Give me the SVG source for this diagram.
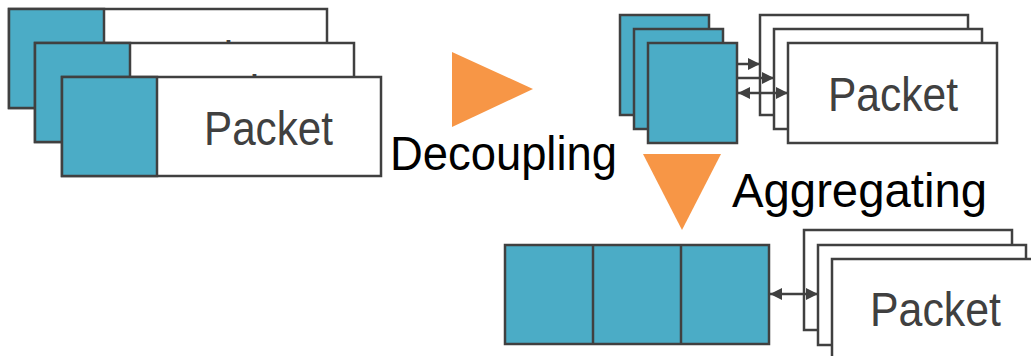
<svg xmlns="http://www.w3.org/2000/svg" width="1031" height="356" viewBox="0 0 1031 356">
  <style>
    .hdr { fill: #4BACC6; stroke: #404040; stroke-width: 2.5; }
    .pkt { fill: #FFFFFF; stroke: #404040; stroke-width: 2.5; }
    .ptxt { font-family: "Liberation Sans", Arial, sans-serif; font-size: 48px; fill: #404040; }
    .lbl { font-family: "Liberation Sans", Arial, sans-serif; font-size: 48px; fill: #000000; }
    .step { fill: #F79646; }
    .link { stroke: #404040; stroke-width: 2.5; fill: none; }
  </style>
  <defs>
    <marker id="head" markerUnits="userSpaceOnUse" markerWidth="12" markerHeight="12" refX="12" refY="6" orient="auto-start-reverse">
      <path d="M0,0 L12,6 L0,12 Z" fill="#404040"/>
    </marker>
  </defs>
  <rect width="1031" height="356" fill="#FFFFFF"/>

  <!-- Stacked whole packets (header + payload); back labels are mostly covered -->
  <g id="packet-stack-a">
    <rect class="pkt" x="9" y="9" width="318" height="99"/>
    <rect class="hdr" x="9" y="9" width="95" height="99"/>
    <text class="ptxt" x="151" y="75" textLength="129" lengthAdjust="spacingAndGlyphs">Packet</text>
  </g>
  <g id="packet-stack-b">
    <rect class="pkt" x="35" y="43" width="319" height="99"/>
    <rect class="hdr" x="35" y="43" width="95" height="99"/>
    <text class="ptxt" x="177" y="109" textLength="129" lengthAdjust="spacingAndGlyphs">Packet</text>
  </g>
  <g id="packet-stack-c">
    <rect class="pkt" x="62" y="77" width="319" height="99"/>
    <rect class="hdr" x="62" y="77" width="95" height="99"/>
    <text class="ptxt" x="204" y="145" textLength="129" lengthAdjust="spacingAndGlyphs">Packet</text>
  </g>

  <!-- Decoupling step -->
  <g id="decoupling">
    <polygon class="step" points="452,52 533,89 452,127"/>
    <text class="lbl" x="390" y="170" textLength="227" lengthAdjust="spacingAndGlyphs">Decoupling</text>
  </g>

  <!-- Decoupled headers -->
  <g id="headers-decoupled">
    <rect class="hdr" x="620" y="15" width="89" height="100"/>
    <rect class="hdr" x="634" y="29" width="89" height="100"/>
    <rect class="hdr" x="648" y="43" width="89" height="100"/>
  </g>

  <!-- Decoupled payloads -->
  <g id="payloads-decoupled">
    <rect class="pkt" x="760" y="15" width="208" height="100"/>
    <rect class="pkt" x="774" y="29" width="208" height="100"/>
    <rect class="pkt" x="788" y="43" width="209" height="100"/>
    <text class="ptxt" x="828" y="111" textLength="130" lengthAdjust="spacingAndGlyphs">Packet</text>
  </g>

  <!-- Aggregating step -->
  <g id="aggregating">
    <polygon class="step" points="643,154 721,154 682,230"/>
    <text class="lbl" x="732" y="207" textLength="255" lengthAdjust="spacingAndGlyphs">Aggregating</text>
  </g>

  <!-- Aggregated header block -->
  <g id="headers-aggregated">
    <rect class="hdr" x="505" y="245" width="264" height="99"/>
    <line class="link" x1="593" y1="245" x2="593" y2="344"/>
    <line class="link" x1="681" y1="245" x2="681" y2="344"/>
  </g>

  <!-- Payloads after aggregation -->
  <g id="payloads-aggregated">
    <rect class="pkt" x="804" y="230" width="208" height="100"/>
    <rect class="pkt" x="818" y="245" width="208" height="100"/>
    <rect class="pkt" x="832" y="259" width="209" height="100"/>
    <text class="ptxt" x="870" y="326" textLength="131" lengthAdjust="spacingAndGlyphs">Packet</text>
  </g>

  <!-- Connectors between headers and payloads -->
  <g id="connectors">
    <line class="link" x1="737" y1="64" x2="760" y2="64" marker-end="url(#head)"/>
    <line class="link" x1="737" y1="78" x2="774" y2="78" marker-end="url(#head)"/>
    <line class="link" x1="738" y1="93" x2="788" y2="93" marker-start="url(#head)" marker-end="url(#head)"/>
    <line class="link" x1="770" y1="294" x2="818" y2="294" marker-start="url(#head)" marker-end="url(#head)"/>
  </g>
</svg>
